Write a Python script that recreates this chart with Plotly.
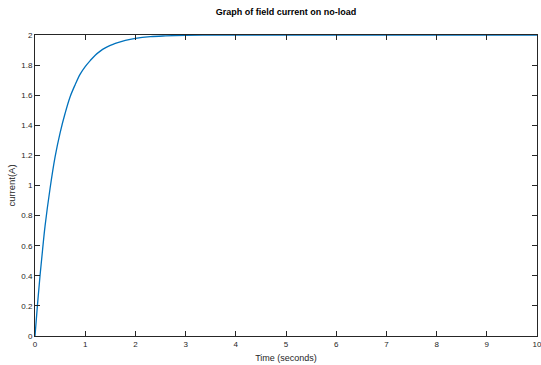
import plotly.graph_objects as go

# Values
time_s = [0, 0.05, 0.1, 0.15, 0.2, 0.3, 0.4, 0.5, 0.6, 0.7, 0.8, 0.9, 1.0, 1.1, 1.2, 1.3, 1.4, 1.5, 1.6, 1.8, 2.0, 2.3, 2.6, 3.0, 3.5, 4, 5, 6, 7, 8, 9, 10]
current_a = [0, 0.21, 0.40, 0.57, 0.73, 0.98, 1.19, 1.35, 1.48, 1.59, 1.67, 1.74, 1.79, 1.83, 1.866, 1.893, 1.914, 1.931, 1.945, 1.965, 1.978, 1.989, 1.994, 1.998, 2.0, 2.0, 2.0, 2.0, 2.0, 2.0, 2.0, 2.0]
x_ticks = [0, 1, 2, 3, 4, 5, 6, 7, 8, 9, 10]
y_ticks = [0, 0.2, 0.4, 0.6, 0.8, 1, 1.2, 1.4, 1.6, 1.8, 2]

FONT = "Liberation Sans, Arial, sans-serif"
AX = "#262626"

fig = go.Figure()
fig.add_trace(go.Scatter(x=time_s, y=current_a, mode="lines",
                         line=dict(color="#0072BD", width=1.3, shape="spline", smoothing=1.0),
                         showlegend=False, hoverinfo="skip"))

axis_common = dict(showline=True, linecolor=AX, linewidth=1, mirror="ticks",
                   ticks="inside", ticklen=5, tickwidth=1, tickcolor=AX,
                   showgrid=False, zeroline=False, ticklabeloverflow="allow",
                   tickfont=dict(family=FONT, size=8, color=AX))

fig.update_layout(
    width=541, height=365,
    margin=dict(l=35, r=4, t=35, b=29, autoexpand=False),
    paper_bgcolor="white", plot_bgcolor="white",
    title=dict(text="<b>Graph of field current on no-load</b>",
               font=dict(family=FONT, size=9, color="black"),
               x=(35 + 537) / 2 / 541, xanchor="center",
               y=1 - 12 / 365, yanchor="middle", yref="container"),
    xaxis=dict(range=[0, 10], tickvals=x_ticks,
               title=dict(text="Time (seconds)", font=dict(family=FONT, size=9, color=AX), standoff=7),
               **axis_common),
    yaxis=dict(range=[0, 2], tickvals=y_ticks,
               title=dict(text="current(A)", font=dict(family=FONT, size=9.5, color=AX), standoff=3),
               **axis_common),
)

fig.write_html("out.html", config={"displayModeBar": False, "staticPlot": True},
               post_script="document.body.style.margin='0';document.body.style.padding='0';document.body.style.overflow='hidden';")
